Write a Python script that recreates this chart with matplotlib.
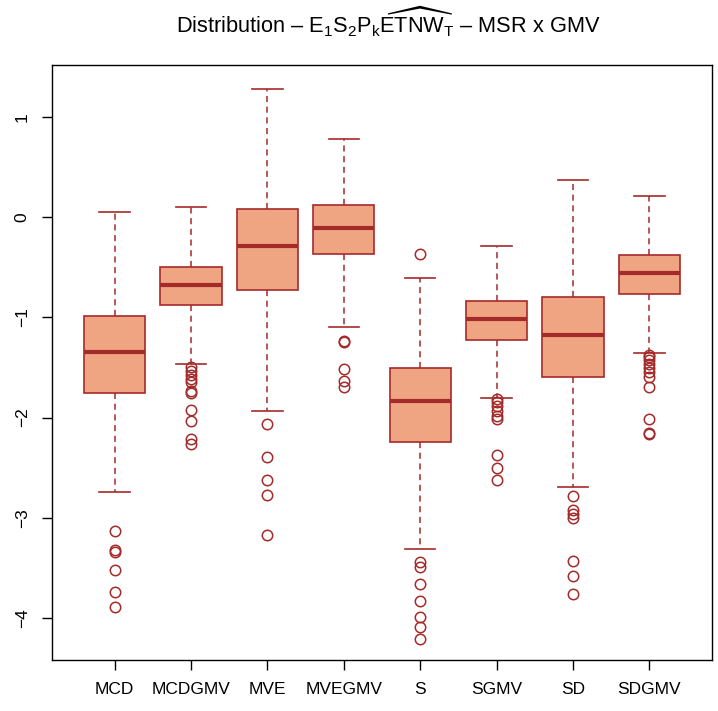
import matplotlib
matplotlib.use("Agg")
import matplotlib.pyplot as plt

plt.rcParams['font.family'] = ['Liberation Sans', 'DejaVu Sans']
plt.rcParams['mathtext.fontset'] = 'custom'
plt.rcParams['mathtext.rm'] = 'Liberation Sans'
plt.rcParams['mathtext.it'] = 'Liberation Sans'
plt.rcParams['mathtext.bf'] = 'Liberation Sans:bold'

categories = ["MCD", "MCDGMV", "MVE", "MVEGMV", "S", "SGMV", "SD", "SDGMV"]
whisker_high = [0.05, 0.10, 1.28, 0.78, -0.61, -0.29, 0.37, 0.21]
q3 = [-0.99, -0.50, 0.08, 0.12, -1.50, -0.84, -0.80, -0.38]
medians = [-1.35, -0.68, -0.29, -0.11, -1.83, -1.02, -1.18, -0.56]
q1 = [-1.75, -0.88, -0.73, -0.37, -2.24, -1.23, -1.59, -0.77]
whisker_low = [-2.74, -1.46, -1.93, -1.10, -3.31, -1.80, -2.69, -1.36]
outliers = [
    [-3.13, -3.32, -3.34, -3.52, -3.74, -3.89],
    [-1.49, -1.53, -1.57, -1.61, -1.64, -1.73, -1.75, -1.92, -2.03, -2.21, -2.26],
    [-2.06, -2.39, -2.62, -2.77, -3.17],
    [-1.24, -1.25, -1.51, -1.63, -1.69],
    [-0.37, -3.44, -3.49, -3.66, -3.83, -3.99, -4.09, -4.21],
    [-1.81, -1.84, -1.88, -1.93, -1.98, -2.01, -2.37, -2.50, -2.62],
    [-2.78, -2.92, -2.96, -3.00, -3.43, -3.58, -3.76],
    [-1.38, -1.40, -1.43, -1.46, -1.50, -1.54, -1.59, -1.69, -2.01, -2.15, -2.16],
]
yticks = [-4, -3, -2, -1, 0, 1]

stats = []
for i, c in enumerate(categories):
    stats.append(dict(label=c, whishi=whisker_high[i], q3=q3[i], med=medians[i],
                      q1=q1[i], whislo=whisker_low[i], fliers=outliers[i]))

edge = "#A52A2A"
fill = "#F0A582"

fig = plt.figure(figsize=(7.18, 7.11), dpi=100)
ax = fig.add_axes([52/718, 51/711, 660/718, 595/711])
positions = list(range(1, len(categories) + 1))
ax.bxp(stats, positions=positions, widths=0.8, patch_artist=True, showfliers=True,
       boxprops=dict(facecolor=fill, edgecolor=edge, linewidth=1.2),
       medianprops=dict(color=edge, linewidth=3, solid_capstyle='butt'),
       whiskerprops=dict(color=edge, linewidth=1.1, linestyle=(0, (4, 3))),
       capprops=dict(color=edge, linewidth=1.2),
       capwidths=0.4,
       flierprops=dict(marker='o', markerfacecolor='none', markeredgecolor=edge,
                       markersize=7.5, markeredgewidth=1.1))
ax.set_xlim(0.18, 8.82)
ax.set_ylim(-4.42, 1.52)
ax.set_yticks(yticks)
ax.set_yticklabels([str(t).replace('-', '\u2212') for t in yticks], rotation=90, va='center')
ax.set_xticks(positions)
ax.set_xticklabels(categories)
ax.tick_params(axis='both', labelsize=12.5, length=7, width=1, color='black')
ax.tick_params(axis='x', pad=9)
ax.tick_params(axis='y', pad=9)
for s in ax.spines.values():
    s.set_linewidth(1)
fig.text(388/718, 1 - 22/711,
         r"Distribution – E$_1$S$_2$P$_k\widehat{\mathrm{ETNW}}_\mathrm{T}$ – MSR x GMV",
         ha='center', va='center', fontsize=15.7)
fig.savefig("out.png", dpi=100)
